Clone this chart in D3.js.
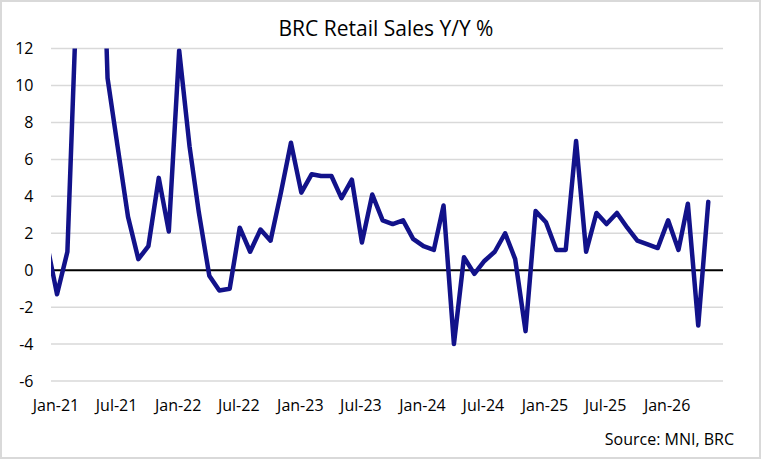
<!DOCTYPE html>
<html lang="en">
<head>
  <meta charset="utf-8">
  <script src="https://d3js.org/d3.v7.min.js"></script>
  <style>
    body { margin: 0; background: #fff; }
    svg { display: block; font-family: 'Open Sans', sans-serif; }
    .tick-label { font-size: 16px; fill: #000; }
    .title { font-size: 21px; fill: #000; }
    .grid { stroke: #d9d9d9; stroke-width: 1.5; }
  </style>
</head>
<body>
  <svg id="chart" width="761" height="460"></svg>
  <script>
    // monthly BRC retail sales, y/y %, Dec-20 .. May-26
    const firstMonth = new Date(2020, 11, 1);
    const yoy = [
      1.5,
      -1.3, 1.0, 15.0, 42.3, 28.0, 10.4, 6.7, 2.9, 0.6, 1.3, 5.0, 2.1,
      11.9, 6.7, 3.1, -0.3, -1.1, -1.0, 2.3, 1.0, 2.2, 1.6, 4.2, 6.9,
      4.2, 5.2, 5.1, 5.1, 3.9, 4.9, 1.5, 4.1, 2.7, 2.5, 2.7, 1.7,
      1.3, 1.1, 3.5, -4.0, 0.7, -0.2, 0.5, 1.0, 2.0, 0.6, -3.3, 3.2,
      2.6, 1.1, 1.1, 7.0, 1.0, 3.1, 2.5, 3.1, 2.3, 1.6, 1.4, 1.2,
      2.7, 1.1, 3.6, -3.0, 3.7
    ];
    const yTicks = [-6, -4, -2, 0, 2, 4, 6, 8, 10, 12];
    const xTickLabels = ["Jan-21", "Jul-21", "Jan-22", "Jul-22", "Jan-23", "Jul-23",
                         "Jan-24", "Jul-24", "Jan-25", "Jul-25", "Jan-26"];

    const data = yoy.map((v, i) => ({ date: d3.timeMonth.offset(firstMonth, i), value: v }));
    const parseLabel = d3.timeParse("%b-%y");

    const svg = d3.select("#chart");
    const W = 761, H = 460;

    svg.append("rect")
       .attr("x", 1).attr("y", 1)
       .attr("width", W - 2).attr("height", H - 3)
       .attr("fill", "#fff")
       .attr("stroke", "#d9d9d9")
       .attr("stroke-width", 2);

    const x = d3.scaleTime()
                .domain([new Date(2020, 11, 14), new Date(2026, 5, 14)])
                .range([51, 723]);
    const y = d3.scaleLinear().domain([-6, 12]).range([381, 48.6]);

    svg.append("defs").append("clipPath").attr("id", "plot-clip")
       .append("rect")
       .attr("x", x.range()[0]).attr("y", y(12))
       .attr("width", x.range()[1] - x.range()[0])
       .attr("height", y(-6) - y(12) + 4);

    // gridlines
    svg.selectAll(".grid")
       .data(yTicks.filter(t => t !== 0))
       .enter().append("line")
       .attr("class", "grid")
       .attr("x1", x.range()[0]).attr("x2", x.range()[1])
       .attr("y1", d => y(d)).attr("y2", d => y(d));

    // y labels
    svg.selectAll(".ylab")
       .data(yTicks)
       .enter().append("text")
       .attr("class", "tick-label")
       .attr("x", 33.5)
       .attr("y", d => y(d))
       .attr("dy", "0.36em")
       .attr("text-anchor", "end")
       .text(d => d);

    // x labels
    svg.selectAll(".xlab")
       .data(xTickLabels)
       .enter().append("text")
       .attr("class", "tick-label")
       .attr("x", d => x(parseLabel(d)) - 1)
       .attr("y", 410.5)
       .attr("text-anchor", "middle")
       .text(d => d);

    // zero line
    svg.append("line")
       .attr("x1", x.range()[0]).attr("x2", x.range()[1])
       .attr("y1", y(0)).attr("y2", y(0))
       .attr("stroke", "#000")
       .attr("stroke-width", 2);

    const line = d3.line().x(d => x(d.date)).y(d => y(d.value));

    svg.append("path")
       .datum(data)
       .attr("clip-path", "url(#plot-clip)")
       .attr("d", line)
       .attr("fill", "none")
       .attr("stroke", "#12128a")
       .attr("stroke-width", 4.5)
       .attr("stroke-linejoin", "round")
       .attr("stroke-linecap", "round");

    svg.append("text")
       .attr("class", "title")
       .attr("x", 386)
       .attr("y", 36)
       .attr("text-anchor", "middle")
       .text("BRC Retail Sales Y/Y %");

    svg.append("text")
       .attr("class", "tick-label")
       .attr("x", 734)
       .attr("y", 445)
       .attr("text-anchor", "end")
       .text("Source: MNI, BRC");
  </script>
</body>
</html>
